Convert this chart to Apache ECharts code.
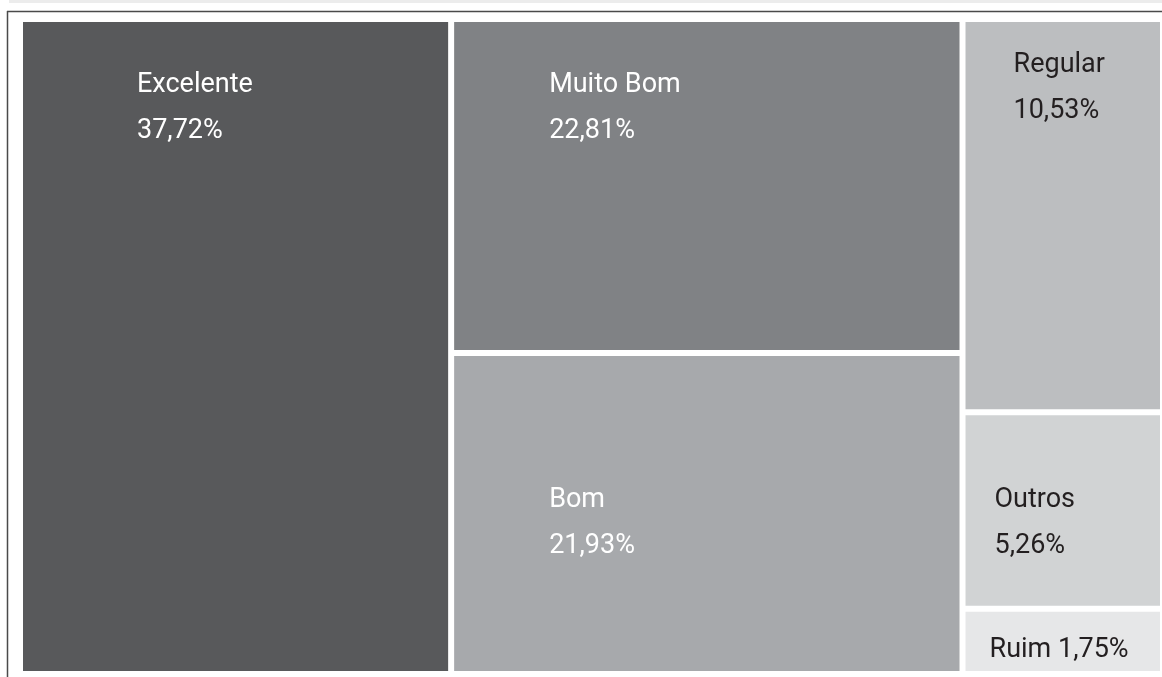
<!DOCTYPE html>
<html>
<head>
<meta charset="utf-8">
<title>Avaliação</title>
<script src="https://cdn.jsdelivr.net/npm/echarts@6/dist/echarts.min.js"></script>
<style>
  html, body { margin: 0; padding: 0; background: #ffffff; }
  #chart { width: 1162px; height: 677px; }
</style>
</head>
<body>
<div id="chart"></div>
<script>
// Categories and their shares (%)
const categories = ['Excelente', 'Muito Bom', 'Bom', 'Regular', 'Outros', 'Ruim'];
const shares = [37.72, 22.81, 21.93, 10.53, 5.26, 1.75];

// Tile fills and label colours per category
const tileColors = {
  'Excelente': '#58595b',
  'Muito Bom': '#808285',
  'Bom': '#a7a9ac',
  'Regular': '#bcbec0',
  'Outros': '#d1d3d4',
  'Ruim': '#e6e7e8'
};
const labelColors = {
  'Excelente': '#ffffff',
  'Muito Bom': '#ffffff',
  'Bom': '#ffffff',
  'Regular': '#231f20',
  'Outros': '#231f20',
  'Ruim': '#231f20'
};
// Label offset inside each tile [x, y] and whether name and value share one line
const labelPlacement = {
  'Excelente': { pos: [109, 35], inline: false },
  'Muito Bom': { pos: [90, 35], inline: false },
  'Bom': { pos: [90, 116], inline: false },
  'Regular': { pos: [43, 15], inline: false },
  'Outros': { pos: [24, 57], inline: false },
  'Ruim': { pos: [19, 11], inline: true }
};

const fmt = v => v.toFixed(2).replace('.', ',') + '%';

const seriesData = categories.map((name, i) => ({
  name: name,
  value: shares[i],
  itemStyle: { color: tileColors[name], borderWidth: 0 },
  label: {
    position: labelPlacement[name].pos,
    color: labelColors[name]
  }
}));

const chart = echarts.init(document.getElementById('chart'), null, { renderer: 'canvas' });

chart.setOption({
  backgroundColor: '#ffffff',
  animation: false,
  graphic: [
    // thin light band along the very top
    { type: 'rect', shape: { x: 9, y: 0, width: 1153, height: 3 }, style: { fill: '#ececec' }, silent: true },
    // frame lines
    { type: 'line', shape: { x1: 7, y1: 11.5, x2: 1162, y2: 11.5 }, style: { stroke: '#4a4a4a', lineWidth: 1.5 }, silent: true },
    { type: 'line', shape: { x1: 7.5, y1: 11, x2: 7.5, y2: 677 }, style: { stroke: '#4a4a4a', lineWidth: 1.5 }, silent: true }
  ],
  series: [{
    type: 'treemap',
    left: 23,
    top: 22,
    width: 1137,
    height: 649,
    roam: false,
    nodeClick: false,
    breadcrumb: { show: false },
    squareRatio: 1,
    itemStyle: { borderWidth: 0, gapWidth: 0 },
    levels: [
      { itemStyle: { borderWidth: 0, gapWidth: 6, borderColor: '#ffffff' } },
      { itemStyle: { borderWidth: 0 } }
    ],
    label: {
      show: true,
      fontFamily: 'Roboto',
      fontSize: 27,
      lineHeight: 46,
      align: 'left',
      verticalAlign: 'top',
      overflow: 'none',
      formatter: p => labelPlacement[p.name].inline
        ? p.name + ' ' + fmt(p.value)
        : p.name + '\n' + fmt(p.value)
    },
    emphasis: { disabled: true },
    data: seriesData
  }]
});
</script>
</body>
</html>
